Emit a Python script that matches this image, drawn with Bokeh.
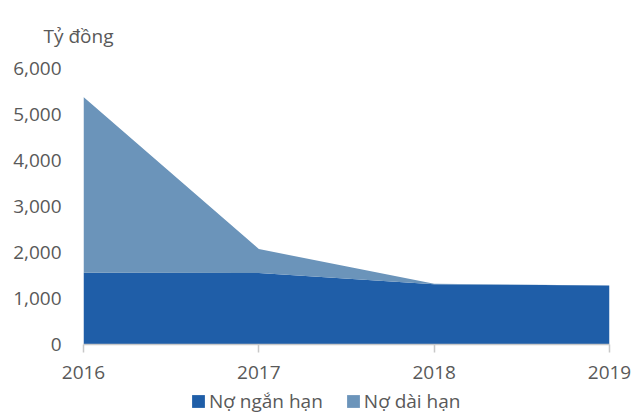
from bokeh.plotting import figure
from bokeh.layouts import column
from bokeh.models import ColumnDataSource, Range1d, FixedTicker, NumeralTickFormatter, Legend, LegendItem
from bokeh.embed import file_html
from bokeh.resources import INLINE

years = [2016, 2017, 2018, 2019]
no_ngan_han = [1560, 1555, 1310, 1280]
no_dai_han = [3820, 520, 10, 0]
series_names = ["Nợ ngắn hạn", "Nợ dài hạn"]
colors = ["#1F5EA8", "#6B94BA"]
y_ticks = [0, 1000, 2000, 3000, 4000, 5000, 6000]
unit_label = "Tỷ đồng"

FONT = "Open Sans"
TXT = "#595959"

src = ColumnDataSource(dict(x=years, ngan=no_ngan_han, dai=no_dai_han))

p = figure(width=632, height=391, output_backend="svg", toolbar_location=None,
           x_range=Range1d(years[0], years[-1]), y_range=Range1d(0, 6000),
           min_border_left=83, min_border_right=23, min_border_top=67, min_border_bottom=47,
           title=unit_label)
p.outline_line_color = None
p.grid.visible = False
p.background_fill_color = "white"
p.border_fill_color = "white"

p.title.align = "left"
p.title.offset = -40
p.title.standoff = 40
p.title.text_font = FONT
p.title.text_font_size = "19px"
p.title.text_font_style = "normal"
p.title.text_color = TXT

p.varea_stack(["ngan", "dai"], x="x", source=src, color=colors)

p.yaxis.ticker = FixedTicker(ticks=y_ticks)
p.yaxis.formatter = NumeralTickFormatter(format="0,0")
p.yaxis.axis_line_color = None
p.yaxis.major_tick_line_color = None
p.yaxis.minor_tick_line_color = None
p.yaxis.major_tick_out = 0
p.yaxis.major_tick_in = 0
p.yaxis.major_label_standoff = 22

p.xaxis.ticker = FixedTicker(ticks=years)
p.xaxis.axis_line_color = "#C8C8C8"
p.xaxis.axis_line_width = 1.5
p.xaxis.major_tick_line_color = "#C8C8C8"
p.xaxis.major_tick_line_width = 1.5
p.xaxis.major_tick_out = 8
p.xaxis.major_tick_in = 0
p.xaxis.minor_tick_line_color = None
p.xaxis.major_label_standoff = 13

for ax in (p.xaxis, p.yaxis):
    ax.major_label_text_font = FONT
    ax.major_label_text_font_size = "19px"
    ax.major_label_text_color = TXT

# legend strip as a separate figure below the chart (frames are aligned by the column)
lg = figure(width=632, height=23, output_backend="svg", toolbar_location=None,
            x_range=Range1d(0, 1), y_range=Range1d(0, 1),
            x_axis_type=None, y_axis_type=None,
            min_border_left=0, min_border_right=0, min_border_top=0, min_border_bottom=0)
lg.outline_line_color = None
lg.grid.visible = False
lg.border_fill_color = "white"
lg.background_fill_color = "white"
# zero-area placeholder renderers so that the legend can draw its swatches
dummy = [lg.varea(x=[0], y1=[0], y2=[0], color=c) for c in colors]

legend = Legend(items=[LegendItem(label=series_names[i], renderers=[dummy[i]]) for i in range(2)],
                orientation="horizontal", location=(107, 0),
                label_text_font=FONT, label_text_font_size="19px", label_text_color=TXT,
                glyph_width=16, glyph_height=16, spacing=22, padding=0, margin=0,
                label_standoff=3, border_line_color=None, background_fill_alpha=0)
lg.add_layout(legend, "center")

open("out.html", "w").write(file_html(column(p, lg, spacing=0), INLINE))
